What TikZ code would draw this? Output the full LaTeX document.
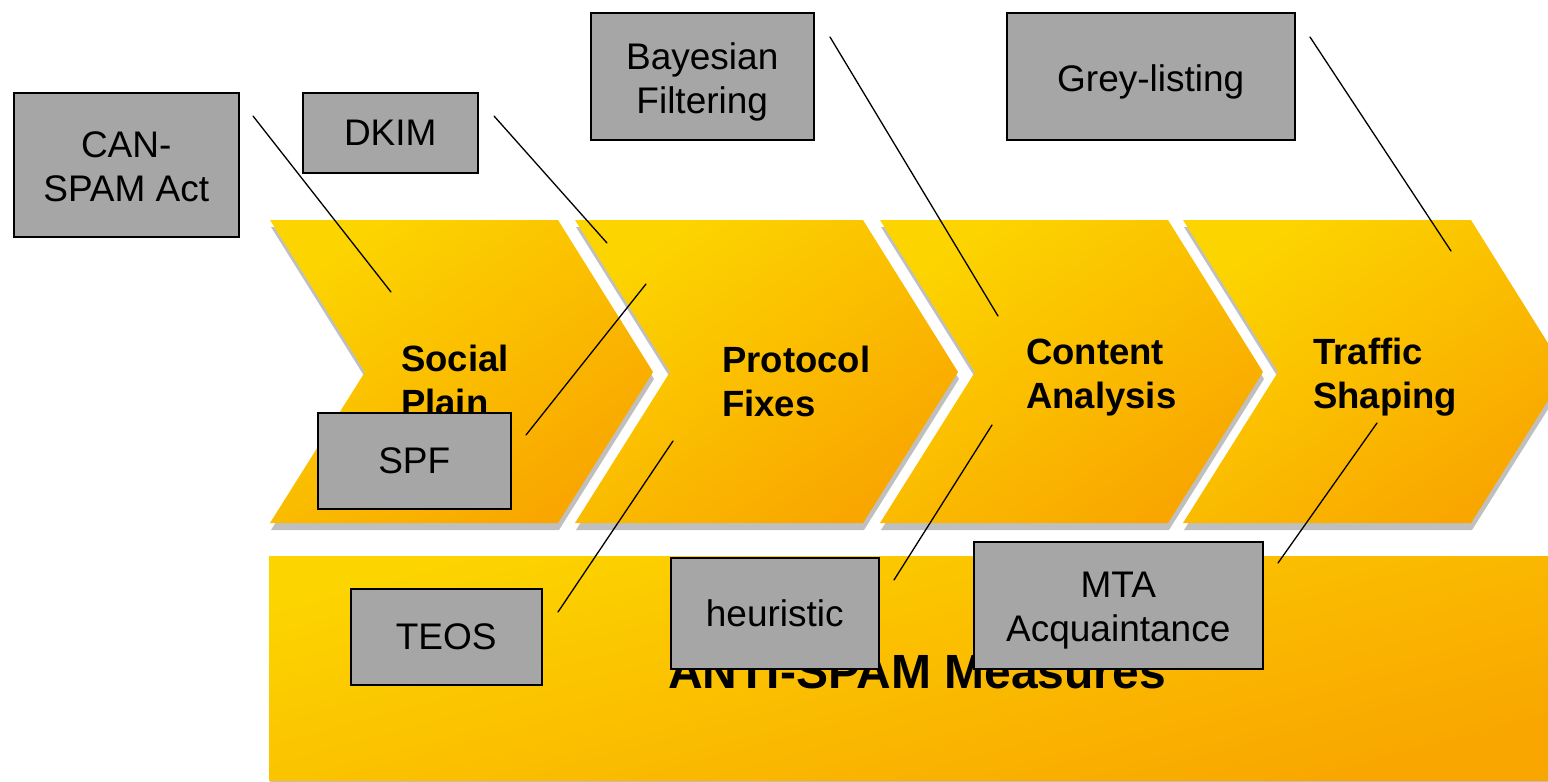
\documentclass[tikz,border=0pt]{standalone}
\usepackage{fontspec}
\setmainfont{Liberation Sans}
\definecolor{yel}{RGB}{252,212,0}
\definecolor{org}{RGB}{249,166,0}
\definecolor{boxgray}{RGB}{166,166,166}
\begin{document}
\begin{tikzpicture}[x=1pt,y=-1pt,
  chev/.style={shading=axis, top color=yel, bottom color=org, shading angle=35},
  band/.style={shading=axis, top color=yel, bottom color=org, shading angle=15},
  shadowfill/.style={fill=gray!50},
  box/.style={draw=black, line width=1.5pt, fill=boxgray, anchor=north west, inner sep=0pt,
    align=center, font=\fontsize{37}{44}\selectfont},
  lbl/.style={anchor=west, inner sep=0pt, align=left, font=\fontsize{36.5}{44}\selectfont\bfseries},
  conn/.style={line width=1.3pt, line cap=round}]
\useasboundingbox (0,0) rectangle (1548,782);
\clip (0,0) rectangle (1548,782);

% chevrons
\foreach \x in {270,575,880,1183} {
  \fill[shadowfill] (\x+1,227) -- ++(288,0) -- ++(95,152) -- ++(-95,151) -- ++(-288,0) -- ++(95,-151) -- cycle;
  \shade[chev] (\x,220) -- ++(288,0) -- ++(95,152) -- ++(-95,151) -- ++(-288,0) -- ++(95,-151) -- cycle;
}
% bottom band
\fill[shadowfill] (270,563) rectangle (1548,783);
\shade[band] (269,556) rectangle (1548,780);

% stage labels
\node[lbl] (social) at (401,380) {Social\\Plain};
\node[lbl] (protocol) at (722,381) {Protocol\\Fixes};
\node[lbl] (content) at (1026,378) {Content\\Analysis};
\node[lbl] (traffic) at (1313,377.5) {Traffic\\Shaping};
\node[anchor=base, inner sep=0pt, font=\fontsize{48}{56}\selectfont\bfseries] (anti) at (917,688) {ANTI-SPAM Measures};

% connectors
\coordinate (c1s) at (253,116); \coordinate (c1e) at (391,292);
\coordinate (c2s) at (494,116); \coordinate (c2e) at (607,243);
\coordinate (c3s) at (526,435); \coordinate (c3e) at (646,284);
\coordinate (c4s) at (558,612); \coordinate (c4e) at (673,441);
\coordinate (c5s) at (830,37);  \coordinate (c5e) at (998,316);
\coordinate (c6s) at (894,580); \coordinate (c6e) at (992,425);
\coordinate (c7s) at (1310,37); \coordinate (c7e) at (1451,251);
\coordinate (c8s) at (1278,563); \coordinate (c8e) at (1377,423);
\foreach \i in {1,...,8} { \draw[conn] (c\i s) -- (c\i e); }

% boxes
\node[box, minimum width=225, minimum height=144, text height=74pt] (can) at (13,92) {CAN-\\SPAM Act};
\node[box, minimum width=175, minimum height=80] (dkim) at (302,92) {DKIM};
\node[box, minimum width=223, minimum height=127, text height=82pt] (bayes) at (590,12) {Bayesian\\Filtering};
\node[box, minimum width=288, minimum height=127, text height=38pt] (grey) at (1006,12) {Grey-listing};
\node[box, minimum width=193, minimum height=96] (spf) at (317,412) {SPF};
\node[box, minimum width=191, minimum height=96] (teos) at (350,588) {TEOS};
\node[box, minimum width=208, minimum height=111] (heur) at (670,557) {heuristic};
\node[box, minimum width=289, minimum height=127, text height=80pt] (mta) at (973,541) {MTA\\Acquaintance};
\end{tikzpicture}
\end{document}
